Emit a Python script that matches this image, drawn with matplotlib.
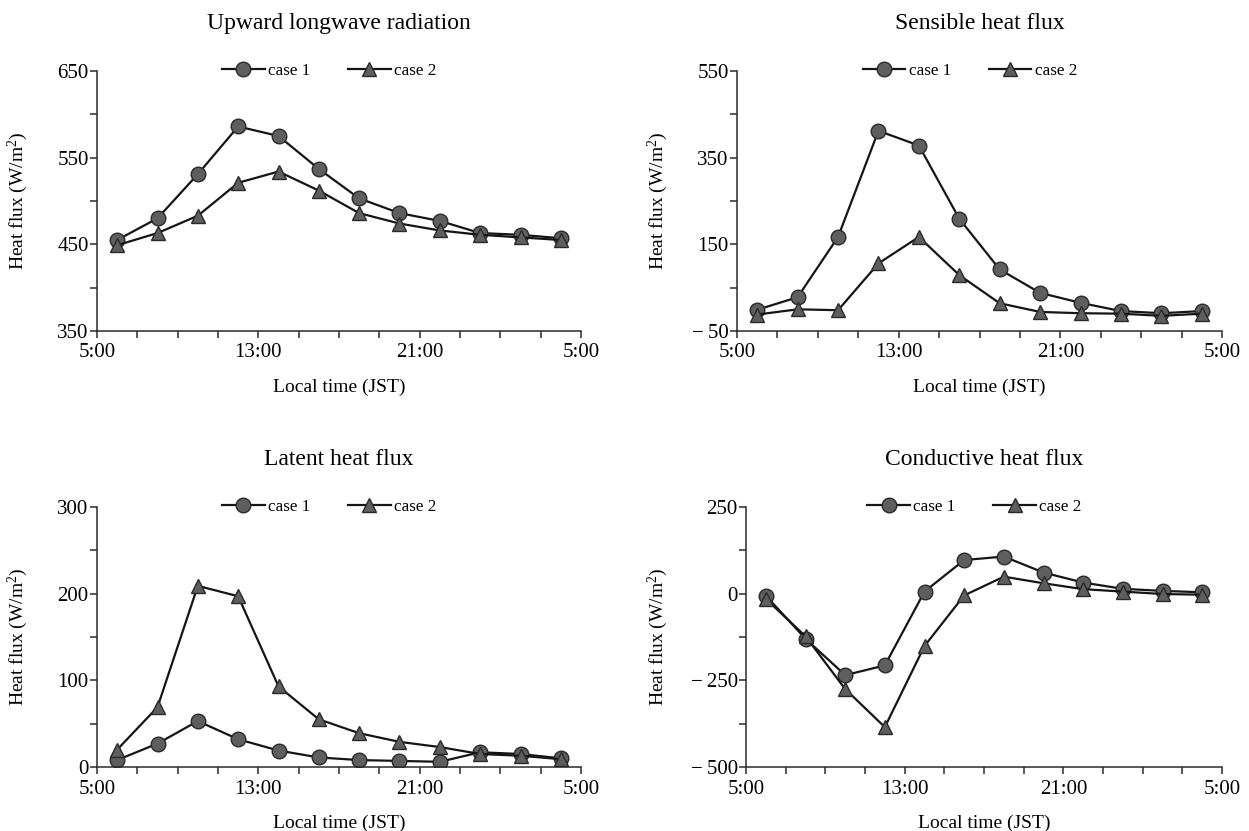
import matplotlib
matplotlib.use("Agg")
import matplotlib.pyplot as plt
from matplotlib.ticker import FixedLocator, FuncFormatter

plt.rcParams["font.family"] = ["Liberation Serif", "DejaVu Serif"]
plt.rcParams["mathtext.fontset"] = "custom"
plt.rcParams["mathtext.rm"] = "Liberation Serif"
plt.rcParams["mathtext.it"] = "Liberation Serif:italic"

# horas locais (6:00 ate 4:00 do dia seguinte, de 2 em 2 h)
horas = [6, 8, 10, 12, 14, 16, 18, 20, 22, 24, 26, 28]

titulos = ["Upward longwave radiation", "Sensible heat flux",
           "Latent heat flux", "Conductive heat flux"]

longwave_c1 = [455, 480, 531, 586, 575, 537, 503, 486, 477, 463, 461, 457]
longwave_c2 = [449, 463, 483, 521, 534, 512, 486, 474, 466, 461, 458, 455]

sensivel_c1 = [-1, 28, 167, 412, 378, 209, 92, 38, 15, -4, -9, -4]
sensivel_c2 = [-12, 0, -2, 106, 167, 79, 14, -6, -9, -10, -15, -10]

latente_c1 = [8, 27, 53, 32, 19, 11, 8, 7, 6, 17, 15, 10]
latente_c2 = [20, 69, 209, 197, 93, 55, 39, 29, 23, 15, 13, 9]

conducao_c1 = [-6, -130, -235, -207, 6, 97, 107, 61, 32, 14, 8, 4]
conducao_c2 = [-15, -123, -275, -385, -151, -5, 49, 30, 13, 6, -1, -3]

series = [(longwave_c1, longwave_c2), (sensivel_c1, sensivel_c2),
          (latente_c1, latente_c2), (conducao_c1, conducao_c2)]

# limites e ticks do eixo y de cada painel
y_lims = [(350, 650), (-50, 550), (0, 300), (-500, 250)]
y_major = [[350, 450, 550, 650], [-50, 150, 350, 550],
           [0, 100, 200, 300], [-500, -250, 0, 250]]

# caixas dos paineis em pixels (esq, topo, dir, base)
W, H = 1249, 831
caixas = [(97, 71, 581, 331), (737, 71, 1222, 331),
          (97, 507, 581, 767), (746, 507, 1222, 767)]
ylabel_x = [30, 670, 30, 670]

fig = plt.figure(figsize=(W / 100, H / 100), dpi=100)

COR_LINHA = "#151515"
COR_MARC = "#5e5e5e"
COR_EIXO = "#2a2a2a"


def fmt_hora(v, pos):
    return f"{int(v) % 24}:00"


def fmt_y(v, pos):
    if v < 0:
        return "\u2212\u2009" + f"{abs(int(v))}"
    return f"{int(v)}"


for i in range(4):
    esq, topo, dir_, base = caixas[i]
    ax = fig.add_axes([esq / W, 1 - base / H, (dir_ - esq) / W, (base - topo) / H])

    c1, c2 = series[i]
    ax.plot(horas, c1, "-o", color=COR_LINHA, lw=1.6, ms=10.5,
            mfc=COR_MARC, mec="#2a2a2a", mew=1.0, label="case 1")
    ax.plot(horas, c2, "-^", color=COR_LINHA, lw=1.6, ms=10.5,
            mfc=COR_MARC, mec="#2a2a2a", mew=1.0, label="case 2")

    ax.set_xlim(5, 29)
    ax.set_ylim(*y_lims[i])

    for lado in ["top", "right"]:
        ax.spines[lado].set_visible(False)
    for lado in ["left", "bottom"]:
        ax.spines[lado].set_color(COR_EIXO)
        ax.spines[lado].set_linewidth(1.1)

    ax.xaxis.set_major_locator(FixedLocator([5, 13, 21, 29]))
    ax.xaxis.set_minor_locator(FixedLocator([7, 9, 11, 15, 17, 19, 23, 25, 27]))
    ax.xaxis.set_major_formatter(FuncFormatter(fmt_hora))

    ym = y_major[i]
    passo = ym[1] - ym[0]
    ax.yaxis.set_major_locator(FixedLocator(ym))
    ax.yaxis.set_minor_locator(FixedLocator([v + passo / 2 for v in ym[:-1]]))
    ax.yaxis.set_major_formatter(FuncFormatter(fmt_y))

    ax.tick_params(axis="both", which="both", direction="out", color=COR_EIXO,
                   width=1.1, length=5, labelsize=15)
    ax.tick_params(axis="x", which="both", pad=4)
    ax.tick_params(axis="y", which="both", pad=1)

    ax.set_title(titulos[i], fontsize=17, pad=30)
    ax.set_xlabel("Local time (JST)", fontsize=14, labelpad=12)
    ax.set_ylabel("Heat flux (W/m$^2$)", fontsize=14)
    ax.yaxis.set_label_coords((ylabel_x[i] - esq) / (dir_ - esq), 0.5)

    ax.legend(loc="center", bbox_to_anchor=(0.48, 1.0), ncol=2, frameon=False,
              fontsize=12.3, handlelength=2.5, handletextpad=0.2,
              columnspacing=2.2, borderaxespad=0)

fig.savefig("out.png", dpi=100)
